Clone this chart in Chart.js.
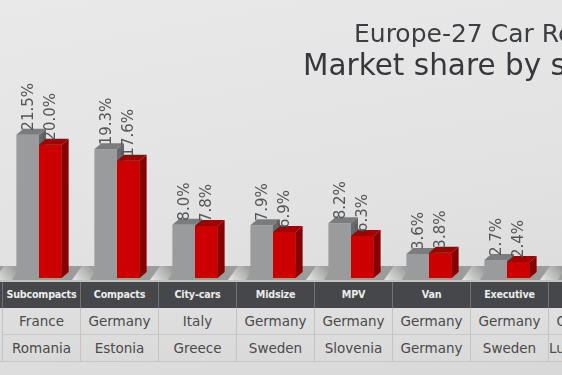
<!DOCTYPE html>
<html>
<head>
<meta charset="utf-8">
<script src="https://cdn.jsdelivr.net/npm/chart.js@4"></script>
<style>
  html, body { margin: 0; padding: 0; width: 562px; height: 375px; overflow: hidden; }
  body {
    position: relative;
    font-family: "DejaVu Sans", sans-serif;
    background: linear-gradient(170deg, #e9e9e9 0%, #e2e2e2 55%, #d8d8d8 100%);
  }
  #chart { position: absolute; left: 0; top: 0; }
  .title { position: absolute; white-space: nowrap; color: #3d3e42; }
  #t1 { left: 354px; top: 21px; font-size: 25px; line-height: 25px; }
  #t2 { left: 303px; top: 51px; font-size: 29.5px; line-height: 29.5px; color: #37383c; }
  .strip { position: absolute; left: 0; width: 562px; box-sizing: border-box; }
  #head { top: 282px; height: 26px; background: #46474b; }
  #rows { top: 308px; height: 54px; background: linear-gradient(180deg, #dfdfdf, #dadada); border-bottom: 1px solid #c6c6c6; }
  .cell { position: absolute; box-sizing: border-box; text-align: center; white-space: nowrap; overflow: hidden; }
  .hd { color: #ececec; font-size: 9.6px; font-weight: bold; letter-spacing: -0.2px; line-height: 26px; height: 26px; border-left: 1px solid #717276; }
  .rc { color: #4a4a4a; font-size: 13.5px; line-height: 27px; height: 27px; border-left: 1px solid #c4c4c4; }
  .rc.r1 { border-bottom: 1px solid #c8c8c8; }
</style>
</head>
<body>
<canvas id="chart" width="630" height="285"></canvas>
<div class="title" id="t1">Europe-27 Car Registrations</div>
<div class="title" id="t2">Market share by segment</div>
<div class="strip" id="head"></div>
<div class="strip" id="rows"></div>
<script>
  // segments and market share (%) per year
  const segments = ['Subcompacts', 'Compacts', 'City-cars', 'Midsize', 'MPV', 'Van', 'Executive', 'Luxury'];
  const shareGray = [21.5, 19.3, 8.0, 7.9, 8.2, 3.6, 2.7, null];
  const shareRed = [20.0, 17.6, 7.8, 6.9, 6.3, 3.8, 2.4, null];
  // countries shown in the two table rows
  const rowTop = ['France', 'Germany', 'Italy', 'Germany', 'Germany', 'Germany', 'Germany', 'Germany'];
  const rowBottom = ['Romania', 'Estonia', 'Greece', 'Sweden', 'Slovenia', 'Germany', 'Sweden', 'Luxembourg'];

  const DX = 7, DY = 6; // 3D depth
  const faces = [
    { top: '#7b7c7e', side: '#67686a' },
    { top: '#a20000', side: '#860000' }
  ];

  // table under the chart
  const COL_W = 78, COL_X = 2;
  function addCell(cls, text, left, top) {
    const d = document.createElement('div');
    d.className = 'cell ' + cls;
    d.style.left = left + 'px';
    d.style.top = top + 'px';
    d.style.width = COL_W + 'px';
    d.textContent = text;
    document.body.appendChild(d);
  }
  segments.forEach((s, i) => {
    const left = COL_X + COL_W * i;
    addCell('hd', s, left, 282);
    addCell('rc r1', rowTop[i], left, 308);
    addCell('rc', rowBottom[i], left, 335);
  });

  function drawFaces(ctx, bar, f) {
    const p = bar.getProps(['x', 'y', 'base', 'width'], true);
    if (p.y == null || isNaN(p.y)) return;
    const l = p.x - p.width / 2, r = p.x + p.width / 2;
    ctx.fillStyle = f.side;
    ctx.beginPath();
    ctx.moveTo(r, p.y);
    ctx.lineTo(r + DX, p.y - DY);
    ctx.lineTo(r + DX, p.base - DY);
    ctx.lineTo(r, p.base);
    ctx.closePath();
    ctx.fill();
    ctx.fillStyle = f.top;
    ctx.beginPath();
    ctx.moveTo(l, p.y);
    ctx.lineTo(l + DX, p.y - DY);
    ctx.lineTo(r + DX, p.y - DY);
    ctx.lineTo(r, p.y);
    ctx.closePath();
    ctx.fill();
  }

  const bars3d = {
    id: 'bars3d',
    beforeDatasetsDraw(chart) {
      const ctx = chart.ctx;
      const a = chart.chartArea;
      const x = chart.scales.x;
      const y0 = a.bottom;
      const half = (x.getPixelForValue(1) - x.getPixelForValue(0)) / 2;
      ctx.save();
      ctx.fillStyle = '#9c9c9c';
      ctx.fillRect(0, y0 - 12, chart.width, 14);
      ctx.fillStyle = '#c2c2c2';
      ctx.fillRect(0, y0 + 2, chart.width, 2);
      // light streaks on the floor between the groups
      for (let i = 0; i <= segments.length; i++) {
        const xb = x.getPixelForValue(i) - half;
        const g = ctx.createLinearGradient(xb - 4, y0 + 2, xb + 14, y0 - 12);
        g.addColorStop(0, 'rgba(235,235,235,0.9)');
        g.addColorStop(1, 'rgba(235,235,235,0)');
        ctx.fillStyle = g;
        ctx.beginPath();
        ctx.moveTo(xb - 6, y0 + 2);
        ctx.lineTo(xb + 12, y0 + 2);
        ctx.lineTo(xb + 20, y0 - 12);
        ctx.lineTo(xb + 4, y0 - 12);
        ctx.closePath();
        ctx.fill();
      }
      ctx.restore();
    },
    afterDatasetsDraw(chart) {
      const ctx = chart.ctx;
      const gray = chart.getDatasetMeta(0).data;
      const red = chart.getDatasetMeta(1).data;
      ctx.save();
      // gray faces first, then the red bars in front of them
      gray.forEach(bar => drawFaces(ctx, bar, faces[0]));
      red.forEach(bar => {
        const v = bar.getProps(['y'], true).y;
        if (v == null || isNaN(v)) return;
        bar.draw(ctx);
        drawFaces(ctx, bar, faces[1]);
      });
      // value labels, rotated
      ctx.font = '15px "DejaVu Sans"';
      ctx.fillStyle = '#555658';
      ctx.textAlign = 'left';
      ctx.textBaseline = 'middle';
      chart.data.datasets.forEach((ds, di) => {
        chart.getDatasetMeta(di).data.forEach((bar, i) => {
          const v = ds.data[i];
          if (v == null) return;
          const p = bar.getProps(['x', 'y'], true);
          ctx.save();
          ctx.translate(p.x + 1, p.y - 4);
          ctx.rotate(-Math.PI / 2);
          ctx.fillText(v.toFixed(1) + '%', 0, 0);
          ctx.restore();
        });
      });
      ctx.restore();
    }
  };

  new Chart(document.getElementById('chart').getContext('2d'), {
    type: 'bar',
    data: {
      labels: segments,
      datasets: [
        { label: 'gray', data: shareGray, backgroundColor: '#9a9b9d' },
        { label: 'red', data: shareRed, backgroundColor: '#cc0000' }
      ]
    },
    options: {
      responsive: false,
      animation: false,
      devicePixelRatio: 1,
      layout: { padding: { left: 0, right: 6, top: 78, bottom: 7 } },
      datasets: { bar: { categoryPercentage: 0.58, barPercentage: 1, borderWidth: 0 } },
      plugins: { legend: { display: false }, tooltip: { enabled: false } },
      scales: {
        x: { display: false },
        y: { display: false, min: 0, max: 30 }
      }
    },
    plugins: [bars3d]
  });
</script>
</body>
</html>
